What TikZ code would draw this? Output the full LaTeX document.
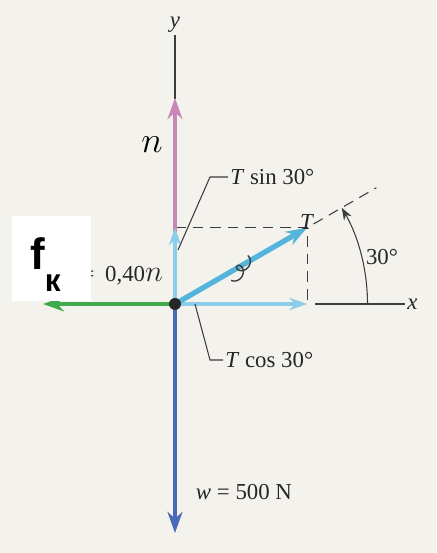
\documentclass[tikz,border=0pt]{standalone}
\usepackage{fontspec}
\setmainfont{Liberation Serif}
\newfontfamily\boxfont{Liberation Sans}
\usetikzlibrary{arrows.meta}
\definecolor{bg}{RGB}{244,242,237}
\definecolor{pinkn}{RGB}{200,135,185}
\definecolor{bluew}{RGB}{75,105,185}
\definecolor{greenf}{RGB}{65,170,75}
\definecolor{cyanT}{RGB}{85,180,220}
\definecolor{cyanc}{RGB}{140,205,235}
\definecolor{axisgray}{RGB}{60,60,60}

\begin{document}
\begin{tikzpicture}[
  force/.style={line width=2.6pt, -{Stealth[length=12pt,width=8.5pt]}},
  comp/.style={line width=2.2pt, cyanc, -{Stealth[length=10pt,width=7pt]}},
  thinline/.style={line width=0.6pt, axisgray},
  lbl/.style={font=\fontsize{13}{13}\selectfont, inner sep=1pt, text=black!85}]
  \fill[bg] (-3.5,-4.98) rectangle (5.22,6.08);
  \useasboundingbox (-3.5,-4.98) rectangle (5.22,6.08);
  \coordinate (O) at (0,0);
  \coordinate (Tp) at (30:3.05);
  \coordinate (Tx) at (Tp |- O);
  \coordinate (Ty) at (Tp -| O);
  %% axes
  \draw[thinline] (0,4.1) -- (0,5.38) node[lbl, above] (ylab) {\textit{y}};
  \draw[thinline] (2.8,0) -- (4.6,0) node[lbl, right] (xlab) {\textit{x}};
  %% dashed construction lines and angle
  \draw[thinline, dash pattern=on 6pt off 4pt] (Ty) -- (Tp) -- (Tx);
  \draw[thinline, dash pattern=on 6pt off 4pt] (30:3.2) -- (30:4.65);
  \draw[thinline, -{Stealth[length=7pt,width=5pt]}] (3.85,0) arc (0:30:3.85);
  \node[lbl] (ang) at (4.14,0.94) {30°};
  %% forces
  \draw[force, pinkn] (O) -- (0,4.12) coordinate (N);
  \node[font=\fontsize{20}{20}\selectfont] (nlab) at (-0.46,3.18) {$n$};
  \draw[force, bluew] (O) -- (0,-4.58) coordinate (W);
  \draw[force, greenf] (O) -- (-2.64,0) coordinate (F);
  \draw[comp] (O) -- (Ty);
  \draw[comp] (O) -- (Tx);
  \draw[force, cyanT, line width=3pt] (O) -- (Tp);
  %% rope mark
  \draw[axisgray, line width=0.8pt, shift={(1.32,0.7)}, rotate=56]
    plot[domain=1.2:11.4, samples=100, smooth] ({0.04*\x - 0.1*sin(\x r) - 0.25}, {0.1*cos(\x r)});
  \fill[black!85] (O) circle (0.12);
  \node[lbl, anchor=south, yshift=-2pt] (Tlab) at (Tp) {\textit{T}};
  %% leaders
  \draw[thinline] (0.06,1.08) -- (0.7,2.54) -- (1.06,2.54) node[lbl, right] (sinlab) {\textit{T} sin 30°};
  \draw[thinline] (0.4,0) -- (0.7,-1.12) -- (0.96,-1.12) node[lbl, right] (coslab) {\textit{T} cos 30°};
  \node[lbl] (wlab) at (1.38,-3.76) {\textit{w} = 500 N};
  %% friction label under the box
  \node[lbl, anchor=base east] (flab) at (-0.2,0.44) {=\hspace{6pt}0,40{\fontsize{17}{17}\selectfont$n$}};
  \fill[white] (-3.26,0.06) rectangle (-1.68,1.76);
  \node[anchor=base west, inner sep=0pt, font=\boxfont\bfseries\fontsize{25}{25}\selectfont] (fk) at (-2.9,0.68) {f\raisebox{-0.44cm}{\fontsize{18}{18}\selectfont к}};
\end{tikzpicture}
\end{document}
